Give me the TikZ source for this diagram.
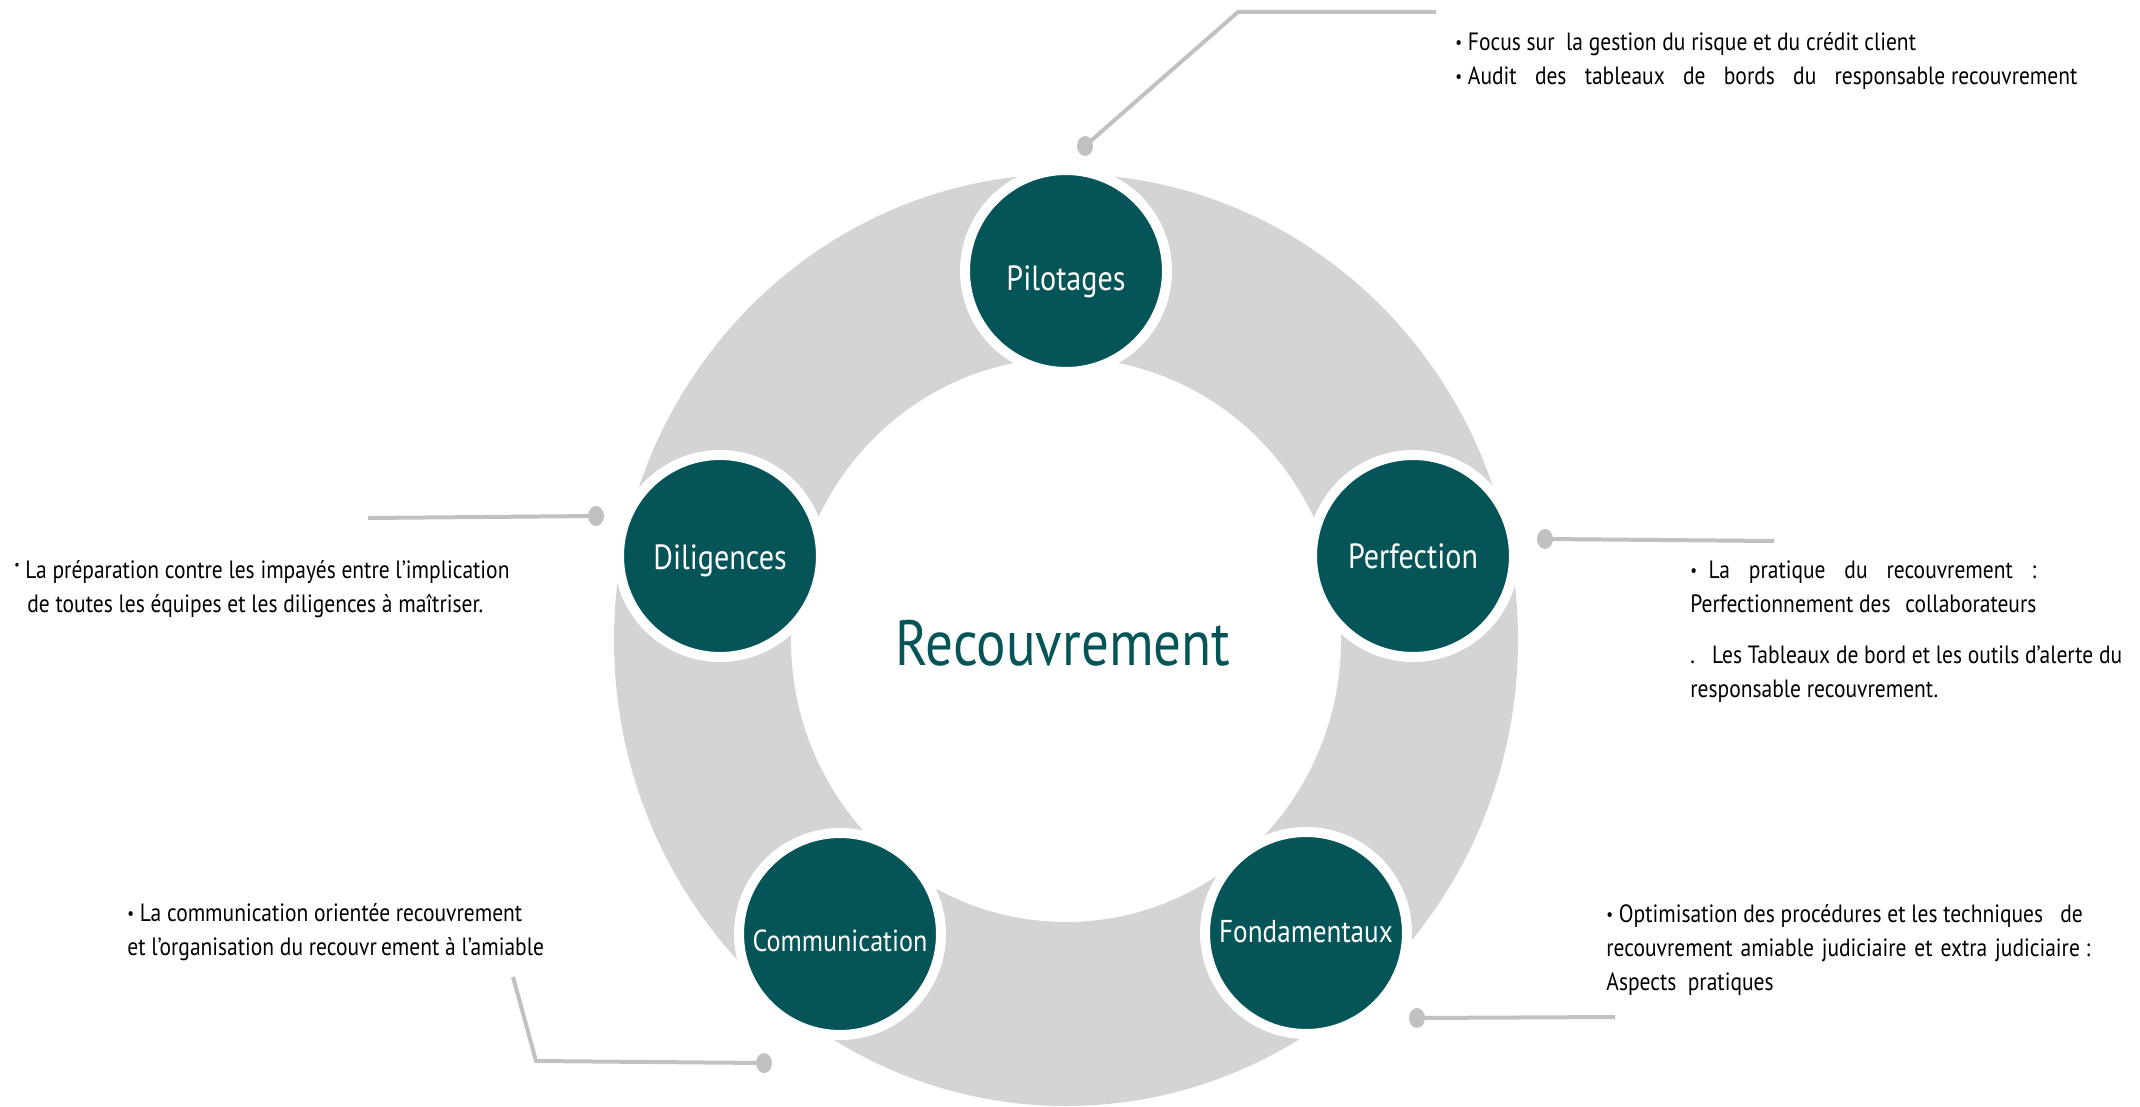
\documentclass[tikz,border=0pt]{standalone}
\usepackage{fontspec}
\setmainfont{PT Sans}[FakeStretch=0.86]
\usetikzlibrary{shapes.geometric}
\definecolor{petrole}{RGB}{5,85,88}
\definecolor{anneau}{RGB}{211,212,214}
\definecolor{trait}{RGB}{192,193,195}
\newcommand{\puce}{\raisebox{.12ex}{\scalebox{.7}{\textbullet}}}
\newcommand{\pucehaute}{\raisebox{.7ex}{\scalebox{.55}{\textbullet}}}
% label whose baseline sits #1 below the circle centre
\newcommand{\etiq}[2]{\raisebox{-#1}[0pt][0pt]{#2}}

\begin{document}
\begin{tikzpicture}
[x=0.5pt,y=-0.5pt,
    etape/.style={circle,fill=petrole,draw=white,line width=5pt,minimum size=101pt,
        inner sep=0pt,text=white,font=\fontsize{17.5}{20}\selectfont},
    pastille/.style={ellipse,fill=trait,minimum width=8pt,minimum height=10pt,inner sep=0pt},
    lien/.style={draw=trait,line width=2pt},
    texte/.style={anchor=north west,inner sep=0pt,align=left,font=\fontsize{12.5}{17}\selectfont}]
\useasboundingbox (0,0) rectangle (2140,1107);
%%%%% ring and centre
\fill[anneau,even odd rule] (1066,640) ellipse[x radius=452,y radius=466]
    (1066,640) ellipse[x radius=275,y radius=282];
\node[anchor=base,text=petrole,font=\fontsize{32}{36}\selectfont] (titre) at (1063,665) {Recouvrement};
%% the five steps
\node[etape] (pil) at (1066,271) {\etiq{9.5pt}{Pilotages}};
\node[etape] (dil) at (720,556) {\etiq{6.5pt}{Diligences}};
\node[etape] (per) at (1413,556) {\etiq{6.3pt}{Perfection}};
\node[etape,font=\fontsize{15.2}{18}\selectfont] (com) at (840,934) {\etiq{8.8pt}{Communication}};
\node[etape,font=\fontsize{15.8}{18}\selectfont] (fon) at (1306,933) {\etiq{4.5pt}{Fondamentaux}};
%% leaders
\coordinate (c1) at (1238,12);
\coordinate (f1) at (1436,12);
\node[pastille] (p1) at (1085,146) {};
\draw[lien] (p1.center) -- (c1) -- (f1);
\coordinate (f2) at (368,518);
\node[pastille] (p2) at (596,516) {};
\draw[lien] (p2.center) -- (f2);
\coordinate (f3) at (1774,541);
\node[pastille] (p3) at (1545,539) {};
\draw[lien] (p3.center) -- (f3);
\coordinate (c4) at (536,1061);
\coordinate (f4) at (513,977);
\node[pastille] (p4) at (764,1063) {};
\draw[lien] (p4.center) -- (c4) -- (f4);
\coordinate (f5) at (1615,1017);
\node[pastille] (p5) at (1417,1018) {};
\draw[lien] (p5.center) -- (f5);
%% texts
\node[texte] (t1) at (1455,32) {\puce\ Focus sur\ \ la gestion du risque et du crédit client\\
    \makebox[311pt][l]{\puce\ Audit\hfill des\hfill tableaux\hfill de\hfill bords\hfill du\hfill responsable recouvrement}};
\node[texte] (t2) at (14,560) {\pucehaute\ La préparation contre les impayés entre l’implication\\
    \hspace*{6.5pt}de toutes les équipes et les diligences à maîtriser.};
\node[texte] (t3) at (1690,560) {\makebox[173pt][l]{\puce\ \ La\hfill pratique\hfill du\hfill recouvrement\hfill :}\\
    \makebox[173pt][l]{Perfectionnement des\hfill collaborateurs}\\[8.5pt]
    .\ \ \ Les Tableaux de bord et les outils d’alerte du\\
    responsable recouvrement.};
\node[texte] (t4) at (127,903) {\puce\ La communication orientée recouvrement\\
    et l’organisation du recouvr\,ement à l’amiable};
\node[texte] (t5) at (1606,904) {\puce\ Optimisation des procédures et les techniques\ \ \ de\\
    \makebox[242pt][l]{recouvrement\hfill amiable\hfill judiciaire\hfill et\hfill extra\hfill judiciaire\ :}\\
    Aspects\ \ pratiques};
\end{tikzpicture}
\end{document}
